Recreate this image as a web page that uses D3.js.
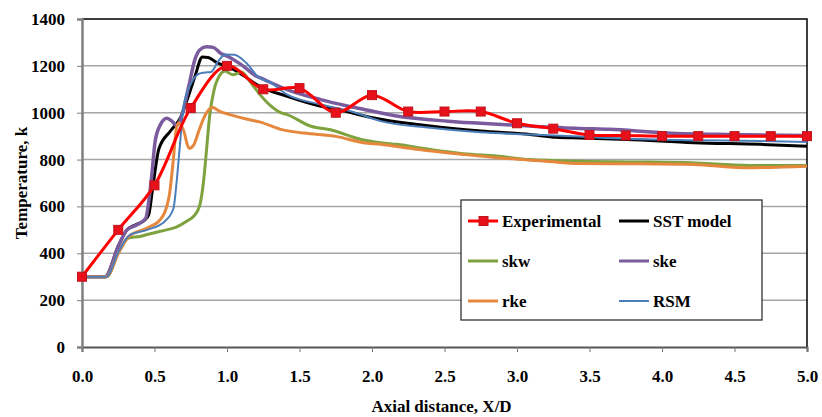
<!DOCTYPE html>
<html>
<head>
<meta charset="utf-8">
<script src="https://cdn.jsdelivr.net/npm/d3@7/dist/d3.min.js"></script>
<style>
  html, body { margin: 0; padding: 0; background: #fff; }
  svg { display: block; }
  text { font-family: "Liberation Serif", "Times New Roman", serif; font-weight: bold; fill: #000; }
</style>
</head>
<body>
<svg id="chart" width="822" height="417"></svg>
<script>
// Axial temperature profiles: experiment vs. turbulence models
const xTicks = [0, 0.5, 1, 1.5, 2, 2.5, 3, 3.5, 4, 4.5, 5];
const yTicks = [0, 200, 400, 600, 800, 1000, 1200, 1400];

const expX = [0, 0.25, 0.5, 0.75, 1.0, 1.25, 1.5, 1.75, 2.0, 2.25, 2.5, 2.75, 3.0, 3.25, 3.5, 3.75, 4.0, 4.25, 4.5, 4.75, 5.0];
const expT = [300, 500, 690, 1020, 1200, 1100, 1105, 1000, 1075, 1005, 1005, 1005, 955, 932, 905, 903, 900, 900, 900, 900, 900];

const sstX = [0, 0.16, 0.25, 0.31, 0.37, 0.43, 0.46, 0.49, 0.53, 0.61, 0.68, 0.73, 0.78, 0.83, 0.87, 0.93, 1.02, 1.11, 1.22, 1.41, 1.64, 1.76, 1.97, 2.06, 2.4, 2.75, 3.09, 3.27, 3.43, 3.76, 4.22, 4.68, 5.0];
const sstT = [300, 300, 430, 500, 522, 540, 565, 690, 845, 922, 980, 1064, 1157, 1238, 1236, 1214, 1193, 1160, 1114, 1071, 1029, 1015, 983, 972, 943, 922, 907, 895, 892, 886, 872, 865, 857];

const skwX = [0, 0.17, 0.25, 0.32, 0.4, 0.45, 0.54, 0.65, 0.73, 0.77, 0.81, 0.837, 0.86, 0.88, 0.91, 0.95, 0.986, 1.04, 1.1, 1.16, 1.23, 1.3, 1.37, 1.41, 1.58, 1.72, 1.92, 2.06, 2.17, 2.4, 2.63, 2.86, 3.09, 3.43, 3.8, 4.2, 4.6, 5.0];
const skwT = [300, 300, 400, 465, 472, 480, 494, 512, 540, 558, 600, 700, 850, 985, 1095, 1160, 1178, 1162, 1174, 1132, 1075, 1030, 1000, 993, 942, 926, 887, 872, 865, 843, 825, 815, 800, 793, 790, 786, 775, 775];

const skeX = [0, 0.16, 0.25, 0.31, 0.38, 0.44, 0.46, 0.48, 0.505, 0.54, 0.585, 0.62, 0.652, 0.687, 0.735, 0.78, 0.815, 0.86, 0.905, 0.955, 1.02, 1.11, 1.2, 1.25, 1.41, 1.64, 1.83, 1.94, 2.17, 2.52, 2.75, 3.09, 3.43, 3.64, 3.99, 4.45, 5.0];
const skeT = [300, 300, 430, 500, 522, 550, 620, 725, 880, 948, 976, 964, 945, 986, 1110, 1230, 1270, 1282, 1279, 1254, 1236, 1200, 1157, 1143, 1100, 1057, 1029, 1015, 986, 964, 955, 943, 933, 929, 915, 907, 903];

const rkeX = [0, 0.17, 0.25, 0.32, 0.45, 0.54, 0.6, 0.63, 0.65, 0.668, 0.7, 0.738, 0.77, 0.81, 0.85, 0.9, 0.952, 1.02, 1.14, 1.23, 1.37, 1.53, 1.76, 1.94, 2.06, 2.28, 2.63, 2.86, 3.2, 3.43, 3.76, 4.22, 4.56, 5.0];
const rkeT = [300, 300, 400, 470, 508, 544, 640, 800, 930, 957, 925, 848, 862, 930, 990, 1022, 1005, 992, 972, 960, 929, 913, 898, 872, 865, 846, 822, 808, 793, 783, 782, 779, 765, 772];

const rsmX = [0, 0.17, 0.25, 0.33, 0.45, 0.57, 0.63, 0.655, 0.675, 0.7, 0.75, 0.8, 0.84, 0.89, 0.94, 0.99, 1.05, 1.13, 1.22, 1.3, 1.41, 1.64, 1.87, 2.06, 2.4, 2.745, 3.09, 3.43, 3.76, 4.22, 4.68, 5.0];
const rsmT = [300, 300, 405, 479, 500, 536, 590, 720, 860, 1025, 1122, 1164, 1171, 1174, 1220, 1248, 1247, 1214, 1150, 1130, 1079, 1036, 1003, 964, 936, 917, 907, 898, 889, 883, 879, 875];

const seriesNames = ["Experimental", "SST model", "skw", "ske", "rke", "RSM"];
const seriesColors = ["#FF0000", "#000000", "#7EA23E", "#7A5C9E", "#E5883E", "#4A7EBB"];

(function draw() {
  const svg = d3.select("#chart");
  const plotLeft = 82, plotRight = 807, plotTop = 19, plotBottom = 347;
  const fontSize = 17;

  const x = d3.scaleLinear().domain([0, 5]).range([plotLeft, plotRight]);
  const y = d3.scaleLinear().domain([0, 1400]).range([plotBottom, plotTop]);

  // horizontal gridlines
  svg.append("g")
    .selectAll("line")
    .data(yTicks.filter(d => d > 0 && d < 1400))
    .join("line")
    .attr("x1", plotLeft).attr("x2", plotRight)
    .attr("y1", d => y(d)).attr("y2", d => y(d))
    .attr("stroke", "#A6A6A6").attr("stroke-width", 1.5);

  // plot frame (top/right)
  svg.append("path")
    .attr("d", `M${plotLeft},${plotTop}H${plotRight}V${plotBottom}`)
    .attr("fill", "none").attr("stroke", "#000").attr("stroke-width", 1.5);

  // x axis
  const xAxis = svg.append("g")
    .attr("transform", `translate(0,${plotBottom})`)
    .call(d3.axisBottom(x).tickValues(xTicks).tickFormat(d3.format(".1f")).tickSize(5).tickPadding(18));
  xAxis.select(".domain").attr("stroke", "#555").attr("stroke-width", 2);
  xAxis.selectAll(".tick line").attr("stroke", "#777").attr("stroke-width", 1);
  xAxis.selectAll(".tick text")
    .attr("font-size", fontSize).attr("font-family", "Liberation Serif").attr("font-weight", "bold").attr("fill", "#000");

  // y axis
  const yAxis = svg.append("g")
    .attr("transform", `translate(${plotLeft},0)`)
    .call(d3.axisLeft(y).tickValues(yTicks).tickFormat(d3.format("d")).tickSize(5).tickPadding(12));
  yAxis.select(".domain").attr("stroke", "#808080").attr("stroke-width", 2.5);
  yAxis.selectAll(".tick line").attr("stroke", "#808080").attr("stroke-width", 1);
  yAxis.selectAll(".tick text")
    .attr("font-size", fontSize).attr("font-family", "Liberation Serif").attr("font-weight", "bold").attr("fill", "#000");

  // axis titles
  svg.append("text")
    .attr("x", (plotLeft + plotRight) / 2 - 3).attr("y", 412)
    .attr("text-anchor", "middle").attr("font-size", fontSize)
    .text("Axial distance, X/D");
  svg.append("text")
    .attr("transform", `translate(27,${(plotTop + plotBottom) / 2}) rotate(-90)`)
    .attr("text-anchor", "middle").attr("font-size", fontSize)
    .text("Temperature, k");

  // model curves
  const smooth = d3.line().x(d => x(d[0])).y(d => y(d[1])).curve(d3.curveMonotoneX);
  const models = [
    { xs: sstX, ts: sstT, color: seriesColors[1], w: 3 },
    { xs: skwX, ts: skwT, color: seriesColors[2], w: 3 },
    { xs: skeX, ts: skeT, color: seriesColors[3], w: 3.5 },
    { xs: rkeX, ts: rkeT, color: seriesColors[4], w: 3 },
    { xs: rsmX, ts: rsmT, color: seriesColors[5], w: 2 }
  ];
  svg.append("g").selectAll("path")
    .data(models)
    .join("path")
    .attr("d", m => smooth(m.xs.map((v, i) => [v, m.ts[i]])))
    .attr("fill", "none")
    .attr("stroke", m => m.color)
    .attr("stroke-width", m => m.w)
    .attr("stroke-linejoin", "round");

  // experimental data: smoothed line with square markers
  const expPts = expX.map((v, i) => [v, expT[i]]);
  const expLine = d3.line().x(d => x(d[0])).y(d => y(d[1])).curve(d3.curveCatmullRom.alpha(0.5));
  svg.append("path")
    .attr("d", expLine(expPts))
    .attr("fill", "none").attr("stroke", seriesColors[0]).attr("stroke-width", 3);
  svg.append("g").selectAll("rect")
    .data(expPts)
    .join("rect")
    .attr("x", d => x(d[0]) - 4.5).attr("y", d => y(d[1]) - 4.5)
    .attr("width", 9).attr("height", 9)
    .attr("fill", "#E8101A").attr("stroke", "#C0141C").attr("stroke-width", 1);

  // legend
  const lg = svg.append("g");
  lg.append("rect")
    .attr("x", 461).attr("y", 200).attr("width", 301).attr("height", 120)
    .attr("fill", "#fff").attr("stroke", "#222").attr("stroke-width", 1.2);
  const legendItems = seriesNames.map((name, i) => ({
    name, color: seriesColors[i],
    col: i % 2, row: Math.floor(i / 2)
  }));
  const item = lg.selectAll("g.item")
    .data(legendItems)
    .join("g")
    .attr("class", "item")
    .attr("transform", d => `translate(${d.col === 0 ? 468 : 619},${221 + d.row * 40})`);
  item.append("line")
    .attr("x1", 0).attr("x2", 30).attr("y1", 0).attr("y2", 0)
    .attr("stroke", d => d.color)
    .attr("stroke-width", d => d.name === "RSM" ? 2 : 3);
  item.filter(d => d.name === "Experimental").append("rect")
    .attr("x", 11).attr("y", -4.5).attr("width", 9).attr("height", 9)
    .attr("fill", "#E8101A").attr("stroke", "#C0141C");
  item.append("text")
    .attr("x", 34).attr("y", 6)
    .attr("font-size", fontSize)
    .text(d => d.name);
})();
</script>
</body>
</html>
